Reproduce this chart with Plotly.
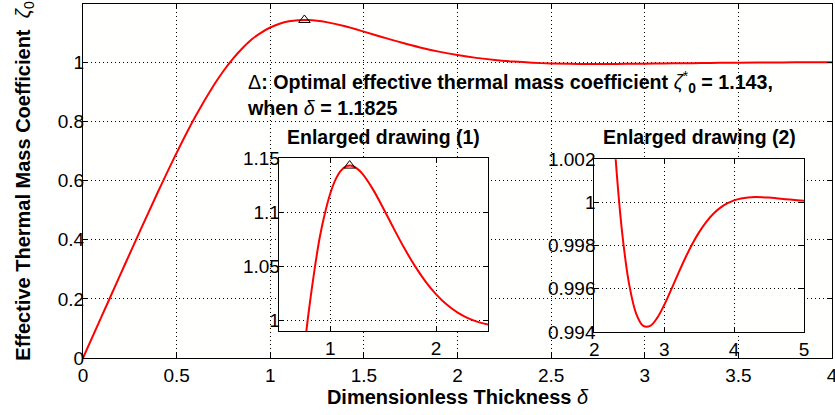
import plotly.graph_objects as go

# Dimensionless thickness and effective thermal mass coefficient
delta = [0.0, 0.1, 0.2, 0.3, 0.4, 0.5, 0.6, 0.7, 0.75, 0.8, 0.85, 0.9, 0.95,
         1.0, 1.05, 1.1, 1.15, 1.1825, 1.2, 1.25, 1.3, 1.4, 1.5, 1.6, 1.7,
         1.8, 1.9, 2.0, 2.1, 2.2, 2.3, 2.4, 2.5, 2.6, 2.7, 2.8, 2.9, 3.0,
         3.1, 3.2, 3.3, 3.4, 3.5, 3.6, 3.7, 3.8, 3.9, 4.0, 4.1, 4.2, 4.3,
         4.4, 4.5, 4.6, 4.7, 4.8, 4.9, 5.0]
zeta = [0.0, 0.14142, 0.28270, 0.42320, 0.56124, 0.69377, 0.81639, 0.92387,
        0.97037, 1.01139, 1.04664, 1.07692, 1.09952, 1.11747, 1.13023,
        1.13832, 1.14231, 1.14299, 1.14280, 1.14042, 1.13573, 1.12150,
        1.10368, 1.08484, 1.06668, 1.05023, 1.03602, 1.02423, 1.014810,
        1.007574, 1.002257, 0.998561, 0.996185, 0.994844, 0.994283, 0.994281,
        0.994652, 0.995251, 0.995963, 0.996705, 0.997418, 0.998065, 0.998626,
        0.999092, 0.999464, 0.999749, 0.999956, 1.000098, 1.000186, 1.000234,
        1.000250, 1.000245, 1.000225, 1.000197, 1.000165, 1.000133, 1.000103,
        1.000076]

peak_delta = [1.1825]
peak_zeta = [1.143]

main_xticks = [0, 0.5, 1, 1.5, 2, 2.5, 3, 3.5, 4]
main_yticks = [0, 0.2, 0.4, 0.6, 0.8, 1]
inset1_xticks = [1, 2]
inset1_yticks = [1, 1.05, 1.1, 1.15]
inset2_xticks = [2, 3, 4, 5]
inset2_yticks = [0.994, 0.996, 0.998, 1, 1.002]

W, H = 835, 415
ML, MR, MT, MB = 83, 3, 4, 57
PW, PH = W - ML - MR, H - MT - MB


def px_x(p):
    return (p - ML) / PW


def px_y(p):
    return (H - MB - p) / PH


FONT = "Liberation Sans, Arial, sans-serif"
RED = "#ff0000"

fig = go.Figure()
for xa, ya in [("x", "y"), ("x2", "y2"), ("x3", "y3")]:
    fig.add_trace(go.Scatter(x=delta, y=zeta, mode="lines", xaxis=xa, yaxis=ya,
                             line=dict(color=RED, width=2, shape="spline"),
                             hoverinfo="skip", showlegend=False))
for xa, ya in [("x", "y"), ("x2", "y2")]:
    fig.add_trace(go.Scatter(x=peak_delta, y=peak_zeta, mode="markers",
                             xaxis=xa, yaxis=ya,
                             marker=dict(symbol="triangle-up-open", size=10,
                                         color="black", line=dict(width=1)),
                             hoverinfo="skip", showlegend=False))

axis_common = dict(showline=True, linecolor="black", linewidth=1,
                   mirror="ticks", ticks="inside", ticklen=5, tickcolor="black",
                   showgrid=True, gridcolor="black", gridwidth=1,
                   griddash="1px,3px", zeroline=False, automargin=False,
                   tickfont=dict(family=FONT, size=19, color="black"))
ylab = dict(ticklabelstandoff=-6)

fig.update_layout(
    width=W, height=H,
    margin=dict(l=ML, r=MR, t=MT, b=MB),
    paper_bgcolor="white", plot_bgcolor="#fffffe",
    font=dict(family=FONT, color="black"),
    xaxis=dict(axis_common, range=[0, 4], tickvals=main_xticks,
               domain=[0, 1], anchor="y", ticklabeloverflow="allow",
               title=dict(text="<b>Dimensionless Thickness </b><i>δ</i>",
                          font=dict(size=20), standoff=3)),
    yaxis=dict(axis_common, **ylab, range=[0, 1.197], tickvals=main_yticks,
               domain=[0, 1], anchor="x",
               title=dict(text="<b>Effective Thermal Mass Coefficient</b>\u00a0\u00a0<i>ζ</i><sub>0</sub>",
                          font=dict(size=20), standoff=21)),
    xaxis2=dict(axis_common, range=[0.512, 2.49], tickvals=inset1_xticks,
                domain=[px_x(278.7), px_x(488)], anchor="y2"),
    yaxis2=dict(axis_common, **ylab, range=[0.9904, 1.15], tickvals=inset1_yticks,
                domain=[px_y(331), px_y(158)], anchor="x2"),
    xaxis3=dict(axis_common, range=[2, 5], tickvals=inset2_xticks,
                domain=[px_x(594.3), px_x(804)], anchor="y3"),
    yaxis3=dict(axis_common, **ylab, range=[0.994, 1.002], tickvals=inset2_yticks,
                domain=[px_y(332), px_y(159.3)], anchor="x3"),
)

fig.add_annotation(
    xref="paper", yref="paper", x=px_x(245), y=px_y(94),
    xanchor="left", yanchor="middle", align="left", showarrow=False,
    text=("Δ<b>: Optimal effective thermal mass coefficient </b><i>ζ</i>"
          "<sup>*</sup><sub><b>0</b></sub><b> = 1.143,</b><br>"
          "<b>when </b><i>δ</i><b> = 1.1825</b>"),
    font=dict(family=FONT, size=19.7, color="black"))
fig.add_annotation(
    xref="paper", yref="paper", x=px_x(383), y=px_y(137),
    xanchor="center", yanchor="middle", showarrow=False,
    text="<b>Enlarged drawing (1)</b>",
    font=dict(family=FONT, size=19.5, color="black"))
fig.add_annotation(
    xref="paper", yref="paper", x=px_x(699), y=px_y(137),
    xanchor="center", yanchor="middle", showarrow=False,
    text="<b>Enlarged drawing (2)</b>",
    font=dict(family=FONT, size=19.5, color="black"))

fig.write_html("out.html", config={"displayModeBar": False},
               post_script="document.body.style.margin='0px';")
